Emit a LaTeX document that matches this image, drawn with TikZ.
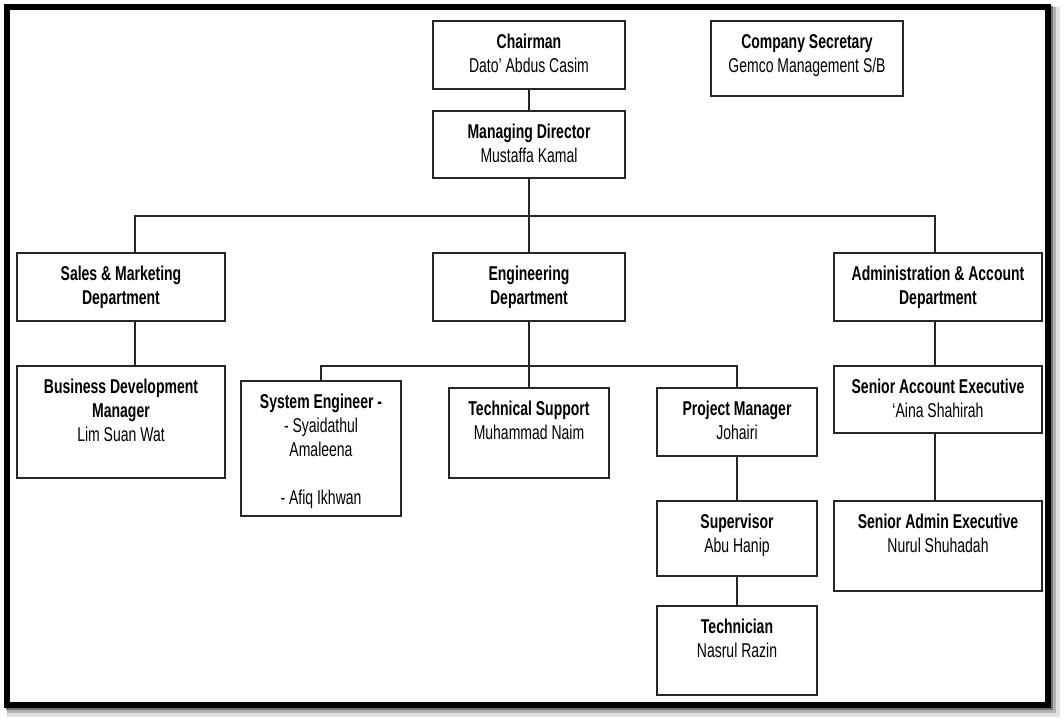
\documentclass[tikz,border=0pt]{standalone}
\usepackage{fontspec}
\setmainfont{Liberation Sans}[FakeStretch=0.70]
\tikzset{
  obox/.style={draw=black!85, line width=1.2pt, fill=white, inner sep=0pt, outer sep=0pt},
  otxt/.style={align=center, inner sep=0pt, anchor=north, font=\fontsize{15}{18}\selectfont, execute at begin node=\strut},
  conn/.style={draw=black!85, line width=1.2pt}
}
\newcommand\orgbox[6]{%
  \node[obox, minimum width={(#4-#2)*0.75pt}, minimum height={(#5-#3)*0.75pt}] (#1) at ({(#2+#4)/2},{(#3+#5)/2}) {};
  \node[otxt] (#1-t) at ([yshift=-9.8pt]#1.north) {#6};}
\begin{document}
\begin{tikzpicture}[x=0.75pt,y=-0.75pt]
\useasboundingbox (0,0) rectangle (1064,721);
% frame with shadow
\draw[line width=9pt, black!12] (13,13) rectangle (1054,711);
\draw[line width=6pt, black!30] (11,11) rectangle (1052,709);
\draw[line width=4.5pt, black!55] (9,9) rectangle (1050,707);
\draw[line width=4.5pt, black, fill=white] (7,7) rectangle (1048,705);
% boxes
\orgbox{chair}{433}{21}{625}{89}{\textbf{Chairman}\\Dato’ Abdus Casim}
\orgbox{sec}{711}{21}{903}{96}{\textbf{Company Secretary}\\Gemco Management S/B}
\orgbox{md}{433}{111}{625}{178}{\textbf{Managing Director}\\Mustaffa Kamal}
\orgbox{sales}{17}{253}{225}{321}{\textbf{Sales \& Marketing}\\\textbf{Department}}
\orgbox{eng}{433}{253}{625}{321}{\textbf{Engineering}\\\textbf{Department}}
\orgbox{adm}{834}{253}{1042}{321}{\textbf{Administration \& Account}\\\textbf{Department}}
\orgbox{bdm}{17}{366}{225}{478}{\textbf{Business Development}\\\textbf{Manager}\\Lim Suan Wat}
\orgbox{se}{241}{381}{401}{516}{\textbf{System Engineer -}\\- Syaidathul\\Amaleena\\[18pt]- Afiq Ikhwan}
\orgbox{ts}{449}{388}{609}{478}{\textbf{Technical Support}\\Muhammad Naim}
\orgbox{pm}{657}{388}{817}{456}{\textbf{Project Manager}\\Johairi}
\orgbox{sup}{657}{501}{817}{576}{\textbf{Supervisor}\\Abu Hanip}
\orgbox{tech}{657}{606}{817}{695}{\textbf{Technician}\\Nasrul Razin}
\orgbox{sae}{834}{366}{1042}{433}{\textbf{Senior Account Executive}\\‘Aina Shahirah}
\orgbox{sade}{834}{501}{1042}{591}{\textbf{Senior Admin Executive}\\Nurul Shuhadah}
% bus points
\coordinate (bus) at (529,216);
\coordinate (ebus) at (529,366);
% connectors
\draw[conn] (chair.south) -- (md.north);
\draw[conn] (md.south) -- (eng.north);
\draw[conn] ([xshift=10.5pt]sales.north) |- (bus) -| ([xshift=-2.25pt]adm.north);
\draw[conn] ([xshift=10.5pt]sales.south) -- ([xshift=10.5pt]bdm.north);
\draw[conn] (eng.south) -- (ts.north);
\draw[conn] (se.north) |- (ebus) -| (pm.north);
\draw[conn] (pm.south) -- (sup.north);
\draw[conn] (sup.south) -- (tech.north);
\draw[conn] ([xshift=-2.25pt]adm.south) -- ([xshift=-2.25pt]sae.north);
\draw[conn] ([xshift=-2.25pt]sae.south) -- ([xshift=-2.25pt]sade.north);
\end{tikzpicture}
\end{document}
